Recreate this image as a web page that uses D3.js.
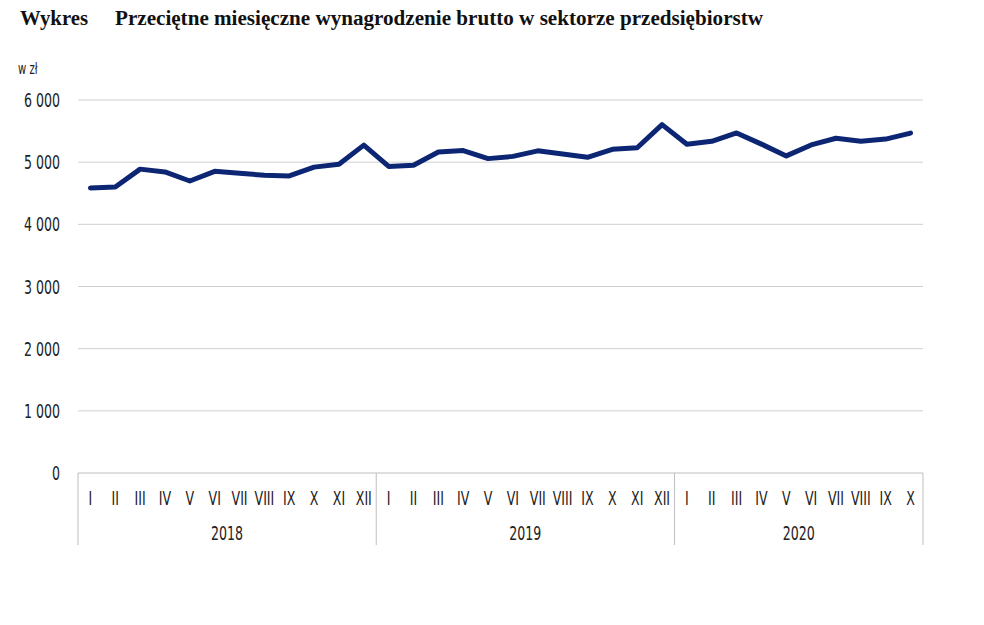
<!DOCTYPE html>
<html>
<head>
<meta charset="utf-8">
<script src="https://cdn.jsdelivr.net/npm/d3@7"></script>
<style>
  body { margin: 0; background: #fff; }
  .tick-lbl { font-family: "DejaVu Sans Condensed", "Liberation Sans Narrow", sans-serif; fill: #222; }
</style>
</head>
<body>
<div id="chart"></div>
<script>
var years = ["2018", "2019", "2020"];
var months2018 = ["I", "II", "III", "IV", "V", "VI", "VII", "VIII", "IX", "X", "XI", "XII"];
var months2019 = ["I", "II", "III", "IV", "V", "VI", "VII", "VIII", "IX", "X", "XI", "XII"];
var months2020 = ["I", "II", "III", "IV", "V", "VI", "VII", "VIII", "IX", "X"];
var wages2018 = [4585, 4600, 4888, 4843, 4697, 4853, 4821, 4790, 4778, 4920, 4967, 5274];
var wages2019 = [4932, 4951, 5164, 5186, 5057, 5093, 5182, 5130, 5078, 5207, 5232, 5604];
var wages2020 = [5287, 5336, 5470, 5290, 5101, 5277, 5385, 5338, 5371, 5468];
var yTicks = [0, 1000, 2000, 3000, 4000, 5000, 6000];

var svgWidth = 984;
var svgHeight = 625;
var margin = { top: 100, left: 78, right: 61, bottom: 152 };
var width = svgWidth - margin.left - margin.right;
var height = svgHeight - margin.top - margin.bottom;
var narrow = 0.7; // squeeze labels to look like the condensed original font

// flatten year/month data
var data = [];
[[years[0], months2018, wages2018], [years[1], months2019, wages2019], [years[2], months2020, wages2020]]
  .forEach(function(g) {
    g[1].forEach(function(m, i) {
      data.push({ key: g[0] + "-" + m, year: g[0], month: m, value: g[2][i] });
    });
  });

var svg = d3.select("#chart")
  .append("svg")
  .attr("width", svgWidth)
  .attr("height", svgHeight);

// title
var title = svg.append("text")
  .attr("x", 20)
  .attr("y", 25)
  .attr("font-family", "Liberation Serif, DejaVu Serif, serif")
  .attr("font-weight", "bold")
  .attr("font-size", "20px")
  .attr("fill", "#111");
title.append("tspan").attr("textLength", 68).attr("lengthAdjust", "spacingAndGlyphs").text("Wykres");
title.append("tspan").attr("x", 115)
  .attr("textLength", 648).attr("lengthAdjust", "spacingAndGlyphs")
  .text("Przeciętne miesięczne wynagrodzenie brutto w sektorze przedsiębiorstw");

svg.append("text")
  .attr("class", "tick-lbl")
  .attr("transform", `translate(18, 74) scale(${narrow}, 1)`)
  .attr("font-size", "16px")
  .text("w zł");

var chartGroup = svg.append("g")
  .attr("transform", `translate(${margin.left}, ${margin.top})`);

var xScale = d3.scaleBand()
  .domain(data.map(d => d.key))
  .range([0, width]);

var yScale = d3.scaleLinear()
  .domain([0, 6000])
  .range([height, 0]);

// gridlines
chartGroup.selectAll(".grid")
  .data(yTicks.slice(1))
  .enter()
  .append("line")
  .attr("x1", 0)
  .attr("x2", width)
  .attr("y1", d => yScale(d))
  .attr("y2", d => yScale(d))
  .attr("stroke", "#cfcfcf")
  .attr("stroke-width", 1);

// y labels
var fmt = d3.format(",");
chartGroup.selectAll(".ylbl")
  .data(yTicks)
  .enter()
  .append("text")
  .attr("class", "tick-lbl")
  .attr("transform", d => `translate(-18, ${yScale(d)}) scale(${narrow}, 1)`)
  .attr("dy", "0.35em")
  .attr("text-anchor", "end")
  .attr("font-size", "20px")
  .text(d => fmt(d).replace(",", " "));

// category axis
chartGroup.append("line")
  .attr("x1", 0).attr("x2", width)
  .attr("y1", height).attr("y2", height)
  .attr("stroke", "#bfbfbf");

var yearBounds = years.map(function(y) {
  var items = data.filter(d => d.year === y);
  var x0 = xScale(items[0].key);
  var x1 = xScale(items[items.length - 1].key) + xScale.bandwidth();
  return { year: y, x0: x0, x1: x1 };
});

var dividers = [0].concat(yearBounds.map(d => d.x1));
chartGroup.selectAll(".div")
  .data(dividers)
  .enter()
  .append("line")
  .attr("x1", d => d).attr("x2", d => d)
  .attr("y1", height).attr("y2", height + 72)
  .attr("stroke", "#bfbfbf");

chartGroup.selectAll(".mlbl")
  .data(data)
  .enter()
  .append("text")
  .attr("class", "tick-lbl")
  .attr("transform", d => `translate(${xScale(d.key) + xScale.bandwidth() / 2}, ${height + 32}) scale(${narrow}, 1)`)
  .attr("text-anchor", "middle")
  .attr("font-size", "20px")
  .text(d => d.month);

chartGroup.selectAll(".ylabel")
  .data(yearBounds)
  .enter()
  .append("text")
  .attr("class", "tick-lbl")
  .attr("transform", d => `translate(${(d.x0 + d.x1) / 2}, ${height + 67}) scale(${narrow}, 1)`)
  .attr("text-anchor", "middle")
  .attr("font-size", "20px")
  .text(d => d.year);

// line
var line = d3.line()
  .x(d => xScale(d.key) + xScale.bandwidth() / 2)
  .y(d => yScale(d.value));

chartGroup.append("path")
  .datum(data)
  .attr("d", line)
  .attr("fill", "none")
  .attr("stroke", "#0d2673")
  .attr("stroke-width", 5)
  .attr("stroke-linejoin", "round")
  .attr("stroke-linecap", "round");
</script>
</body>
</html>
